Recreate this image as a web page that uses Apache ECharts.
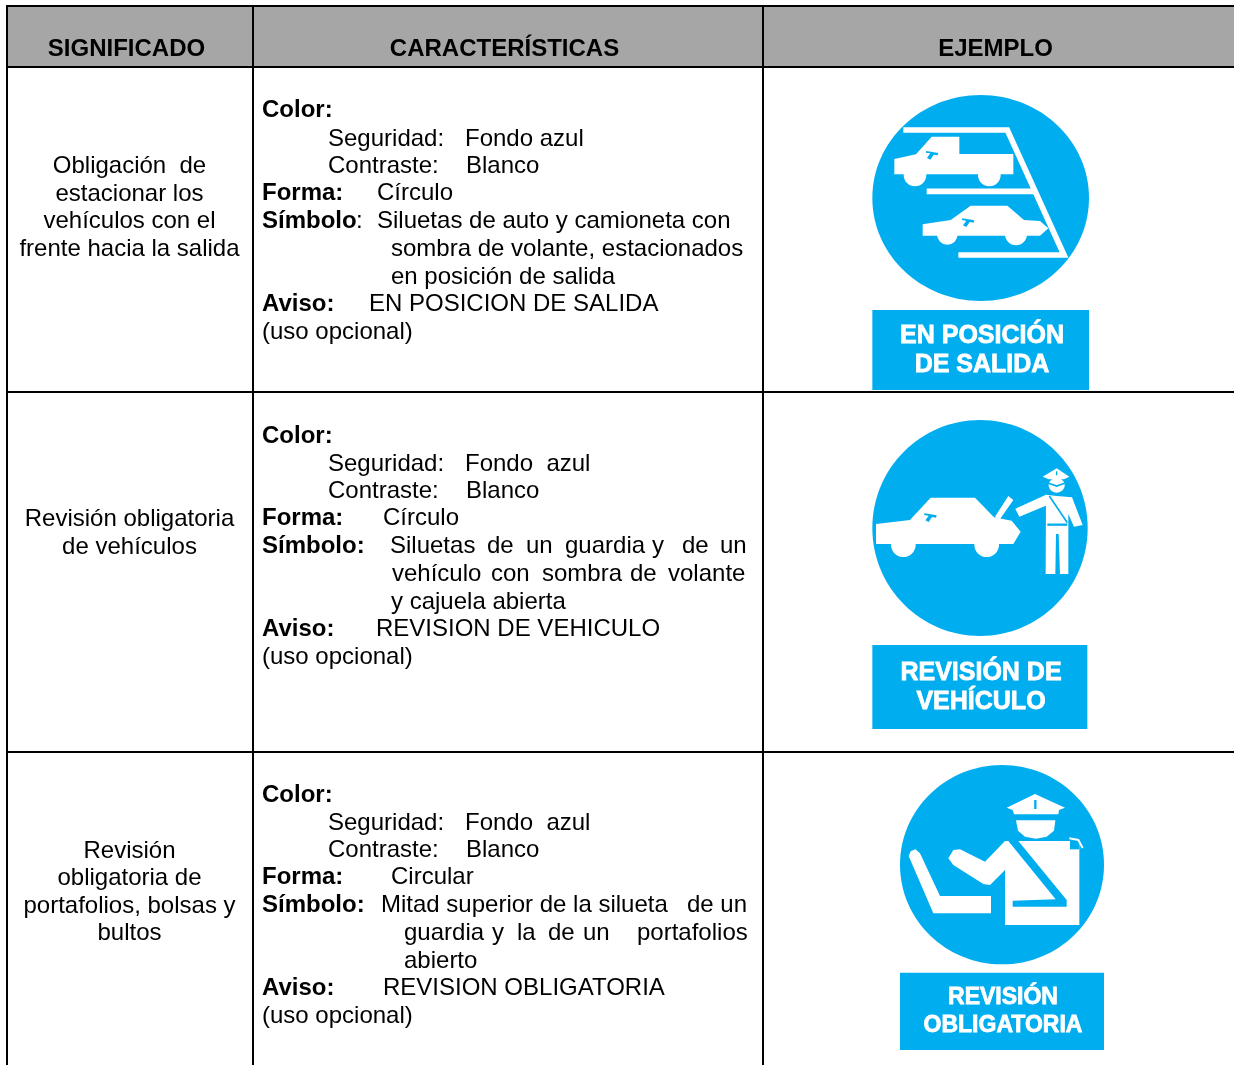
<!DOCTYPE html>
<html>
<head>
<meta charset="utf-8">
<script type="text/javascript" src="https://cdn.jsdelivr.net/npm/echarts@6/dist/echarts.min.js"></script>
<style>html,body{margin:0;padding:0;background:#fff;}</style>
</head>
<body>
<div id="container" style="width:1234px; height:1065px;"></div>

<script type="text/javascript">
var headers = ['SIGNIFICADO', 'CARACTERÍSTICAS', 'EJEMPLO'];

var meaning1 = ['Obligación  de', 'estacionar los', 'vehículos con el', 'frente hacia la salida'];
var meaning2 = ['Revisión obligatoria', 'de vehículos'];
var meaning3 = ['Revisión', 'obligatoria de', 'portafolios, bolsas y', 'bultos'];

// one entry per printed line, split where the original leaves a gap
var detail1 = [
	['Color:'],
	['Seguridad:', 'Fondo azul'],
	['Contraste:', 'Blanco'],
	['Forma:', 'Círculo'],
	['Símbolo', ':', 'Siluetas de auto y camioneta con'],
	['sombra de volante, estacionados'],
	['en posición de salida'],
	['Aviso:', 'EN POSICION DE SALIDA'],
	['(uso opcional)']
];
var detail2 = [
	['Color:'],
	['Seguridad:', 'Fondo  azul'],
	['Contraste:', 'Blanco'],
	['Forma:', 'Círculo'],
	['Símbolo:', 'Siluetas', 'de', 'un', 'guardia', 'y', 'de', 'un'],
	['vehículo', 'con', 'sombra', 'de', 'volante'],
	['y cajuela abierta'],
	['Aviso:', 'REVISION DE VEHICULO'],
	['(uso opcional)']
];
var detail3 = [
	['Color:'],
	['Seguridad:', 'Fondo  azul'],
	['Contraste:', 'Blanco'],
	['Forma:', 'Circular'],
	['Símbolo:', 'Mitad superior de la silueta', 'de un'],
	['guardia', 'y', 'la', 'de', 'un', 'portafolios'],
	['abierto'],
	['Aviso:', 'REVISION OBLIGATORIA'],
	['(uso opcional)']
];
var boldLabels = ['Color:', 'Forma:', 'Símbolo', 'Símbolo:', 'Aviso:'];

var banner1 = ['EN POSICIÓN', 'DE SALIDA'];
var banner2 = ['REVISIÓN DE', 'VEHÍCULO'];
var banner3 = ['REVISIÓN', 'OBLIGATORIA'];

// layout, kept apart from the texts above
var FONT = '"Liberation Sans", Arial, sans-serif';
var BLUE = '#00aeef';
var colX = [7, 253, 763];
var rowY = [6, 67, 392, 752];
var meaningY = [[166, 194, 221, 249], [519, 547], [851, 878, 906, 933]];
var detailY = [
	[110, 139, 166, 193, 221, 249, 277, 304, 332],
	[436, 464, 491, 518, 546, 574, 602, 629, 657],
	[795, 823, 850, 877, 905, 933, 961, 988, 1016]
];
var detailX = [
	[[262], [328, 465], [328, 466], [262, 377], [262, 356, 377], [391], [391], [262, 369], [262]],
	[[262], [328, 465], [328, 466], [262, 383], [262, 390, 487, 526, 565, 652, 682, 720], [392, 491, 542, 630, 668], [391], [262, 376], [262]],
	[[262], [328, 465], [328, 466], [262, 391], [262, 381, 687], [404, 492, 517, 548, 583, 637], [404], [262, 383], [262]]
];

function label(text, x, y, size, bold, color, align) {
	return {
		type: 'text',
		style: {
			text: text, x: x, y: y,
			fontFamily: FONT, fontSize: size, fontWeight: bold ? 'bold' : 'normal',
			fill: color || '#000', align: align || 'left', verticalAlign: 'middle'
		}
	};
}
function line(x1, y1, x2, y2) {
	return { type: 'line', shape: { x1: x1, y1: y1, x2: x2, y2: y2 }, style: { stroke: '#000', lineWidth: 2 } };
}
function fill(type, shape, color) {
	return { type: type, shape: shape, style: { fill: color || '#fff' } };
}
function poly(points, color) {
	return fill('polygon', { points: points }, color);
}
function stroke(points, width, color, cap) {
	return { type: 'polyline', shape: { points: points }, style: { stroke: color || '#fff', fill: null, lineWidth: width, lineCap: cap || 'butt', lineJoin: 'miter' } };
}
function wheel(cx, cy, r) {
	return fill('circle', { cx: cx, cy: cy, r: r });
}
function volante(x, y) {
	return poly([[x - 18, y - 10], [x + 18, y - 4], [x + 16, y + 3], [x + 4, y + 1], [x - 6, y + 16], [x - 16, y + 11], [x - 6, y - 3], [x - 20, y - 5]], BLUE);
}

// pictograms are drawn at 3x inside a scaled group
function sign(x, y, children) {
	return { type: 'group', x: x, y: y, scaleX: 1 / 3, scaleY: 1 / 3, children: children };
}

var icon1 = [
	fill('ellipse', { cx: 362, cy: 339, rx: 325, ry: 309 }, BLUE),
	fill('rect', { x: 37, y: 675, width: 650, height: 240 }, BLUE),
	stroke([[130, 135], [442, 135], [612, 510], [295, 510]], 17),
	stroke([[200, 319], [526, 319]], 17),
	poly([[103, 222], [168, 208], [215, 155], [298, 155], [298, 207], [460, 207], [460, 268], [103, 268]]),
	wheel(165, 270, 34), wheel(388, 270, 34),
	volante(217, 208),
	poly([[188, 418], [272, 405], [332, 362], [442, 362], [492, 405], [540, 408], [565, 430], [540, 452], [188, 452]]),
	wheel(262, 448, 31), wheel(468, 448, 33),
	volante(325, 410)
];
var icon2 = [
	fill('ellipse', { cx: 360, cy: 354, rx: 323, ry: 324 }, BLUE),
	fill('rect', { x: 37, y: 705, width: 645, height: 252 }, BLUE),
	poly([[48, 342], [150, 330], [212, 263], [345, 263], [402, 322], [455, 332], [482, 365], [460, 402], [48, 402]]),
	wheel(130, 404, 37), wheel(380, 404, 37),
	poly([[405, 320], [445, 258], [460, 270], [418, 330]]),
	volante(212, 320),
	poly([[466, 296], [558, 254], [570, 282], [478, 320]]),
	poly([[558, 254], [590, 258], [636, 262], [668, 345], [642, 350], [625, 312], [625, 492], [600, 492], [596, 372], [588, 372], [586, 492], [557, 492]]),
	stroke([[562, 344], [622, 344]], 7, BLUE),
	stroke([[568, 258], [622, 338]], 5, BLUE),
	poly([[548, 200], [590, 175], [628, 200], [612, 208], [566, 208]]),
	stroke([[590, 184], [590, 196]], 4, BLUE),
	fill('ellipse', { cx: 590, cy: 226, rx: 24, ry: 22 }),
	stroke([[566, 220], [590, 228], [614, 220]], 5, BLUE)
];
var icon3 = [
	fill('ellipse', { cx: 336, cy: 314, rx: 306, ry: 299 }, BLUE),
	fill('rect', { x: 30, y: 638, width: 612, height: 232 }, BLUE),
	poly([[56, 288], [62, 274], [76, 268], [90, 280], [150, 408], [303, 408], [303, 460], [130, 460]]),
	poly([[345, 243], [568, 243], [568, 495], [345, 495], [345, 330], [300, 375], [280, 372], [190, 315], [175, 295], [190, 270], [210, 268], [285, 305]]),
	poly([[540, 243], [568, 243], [568, 268], [540, 268]], BLUE),
	stroke([[538, 235], [565, 240], [578, 264]], 6),
	poly([[385, 243], [530, 420], [530, 440], [368, 440], [368, 422], [497, 418], [355, 243]], BLUE),
	poly([[350, 143], [435, 102], [525, 143], [507, 150], [505, 163], [372, 163], [368, 150]]),
	stroke([[436, 120], [436, 147]], 7, BLUE),
	poly([[378, 181], [496, 181], [492, 212], [470, 230], [438, 236], [405, 230], [384, 212]])
];

var els = [];
els.push({ type: 'rect', shape: { x: colX[0], y: rowY[0], width: 1234 - colX[0], height: rowY[1] - rowY[0] }, style: { fill: '#a6a6a6' } });
for (var r = 0; r < rowY.length; r++) els.push(line(colX[0] - 1, rowY[r], 1234, rowY[r]));
for (var c = 0; c < colX.length; c++) els.push(line(colX[c], rowY[0], colX[c], 1065));

var headerX = [126.5, 504.5, 995.5];
headers.forEach(function (h, i) {
	els.push(label(h, headerX[i], 49, 24, true, '#000', 'center'));
});

[meaning1, meaning2, meaning3].forEach(function (rows, i) {
	rows.forEach(function (t, j) {
		els.push(label(t, 129.5, meaningY[i][j], 24, false, '#000', 'center'));
	});
});

[detail1, detail2, detail3].forEach(function (rows, i) {
	rows.forEach(function (parts, j) {
		parts.forEach(function (t, k) {
			els.push(label(t, detailX[i][j][k], detailY[i][j], 24, boldLabels.indexOf(t) >= 0));
		});
	});
});

els.push(sign(860, 85, icon1));
els.push(sign(860, 410, icon2));
els.push(sign(890, 760, icon3));

var bannerY = [[336, 365], [673, 702], [998, 1026]];
var bannerX = [982, 981, 1003];
var bannerSize = [25, 25, 23];
[banner1, banner2, banner3].forEach(function (rows, i) {
	rows.forEach(function (t, j) {
		var el = label(t, bannerX[i], bannerY[i][j], bannerSize[i], true, '#fff', 'center');
		el.style.stroke = '#fff';
		el.style.lineWidth = 0.8;
		els.push(el);
	});
});

var myChart = echarts.init(document.getElementById('container'), null, { renderer: 'canvas' });
var option = {
	backgroundColor: '#fff',
	animation: false,
	graphic: { elements: els }
};
myChart.setOption(option, true);
</script>
</body>
</html>
